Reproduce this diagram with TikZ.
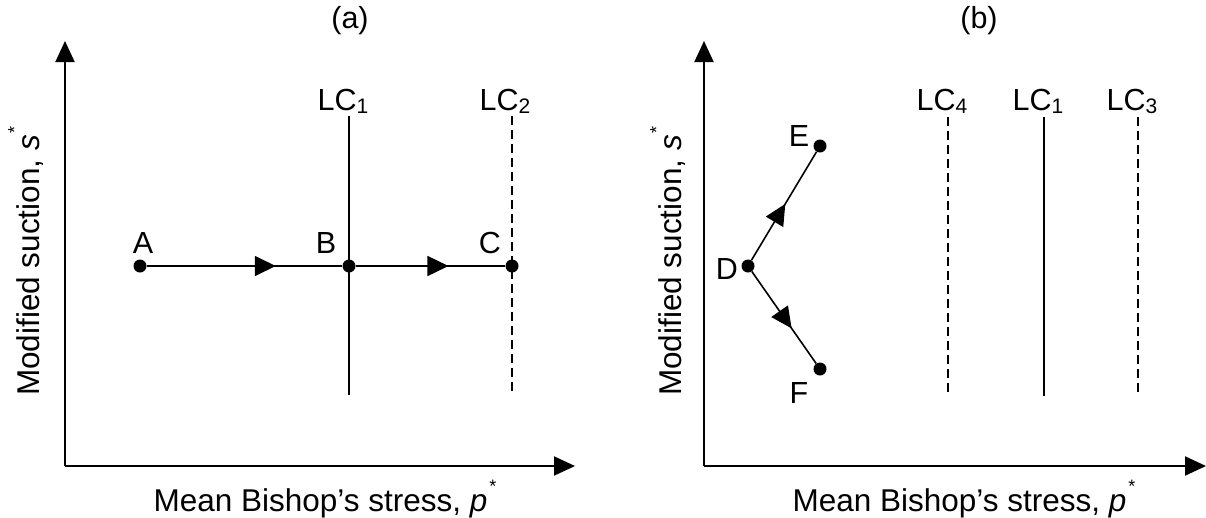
\documentclass[tikz,border=0pt]{standalone}
\usepackage{fontspec}
\setmainfont{Liberation Sans}
\usetikzlibrary{arrows.meta,decorations.markings}
\tikzset{
  axis/.style={line width=2pt,-{Triangle[length=21pt,width=19pt]}},
  path/.style={line width=1.6pt},
  lcsolid/.style={line width=1.6pt},
  lcdash/.style={line width=1.6pt,dash pattern=on 9pt off 5pt},
  dot/.style={circle,fill=black,inner sep=0pt,minimum size=13pt},
  lbl/.style={font=\fontsize{30.5}{35}\selectfont,inner sep=0pt},
  axlbl/.style={font=\fontsize{31.5}{36}\selectfont,inner sep=0pt},
  midarrow/.style={path,postaction={decorate},decoration={markings,mark=at position #1 with {\arrow{Triangle[length=21pt,width=20pt]}}}},
}
\newcommand{\lcsub}[1]{LC\raisebox{-0.1em}{\fontsize{21}{24}\selectfont #1}}
\newcommand{\starsup}{\hspace{2pt}\raisebox{0.6em}{\fontsize{18}{20}\selectfont *}}
\begin{document}
\begin{tikzpicture}[x=1pt,y=-1pt]
\useasboundingbox (0,0) rectangle (1206,517);
% ---------- panel (a)
\coordinate (Oa) at (65,466);
\coordinate (Ya) at (65,41);
\coordinate (Xa) at (575,466);
\draw[axis] (Oa) -- (Ya);
\draw[axis] (Oa) -- (Xa);
\node[lbl] (ta) at (350,21) {(a)};
\node[axlbl,rotate=90,anchor=center] (ylA) at (26,261) {Modified suction, \textit{s}\starsup};
\node[axlbl,anchor=base] (xlA) at (325,511) {Mean Bishop’s stress, \textit{p}\starsup};
% LC lines
\coordinate (L1t) at (349,116); \coordinate (L1b) at (349,395);
\coordinate (L2t) at (512,116); \coordinate (L2b) at (512,395);
\draw[lcsolid] (L1t) -- (L1b);
\draw[lcdash] (L2t) -- (L2b);
\node[lbl,anchor=base] (lc1a) at (343,110) {\lcsub{1}};
\node[lbl,anchor=base] (lc2a) at (505,110) {\lcsub{2}};
% points
\node[dot] (A) at (140,266) {};
\node[dot] (B) at (349,266) {};
\node[dot] (C) at (512,266) {};
\node[lbl,anchor=base] (lA) at (143,253) {A};
\node[lbl,anchor=base] (lB) at (326,253) {B};
\node[lbl,anchor=base] (lC) at (490,253) {C};
\draw[midarrow=0.66] (A) -- (B);
\draw[midarrow=0.62] (B) -- (C);
% ---------- panel (b)
\coordinate (Ob) at (704,466);
\coordinate (Yb) at (704,41);
\coordinate (Xb) at (1206,466);
\draw[axis] (Ob) -- (Yb);
\draw[axis] (Ob) -- (Xb);
\node[lbl] (tb) at (979,21) {(b)};
\node[axlbl,rotate=90,anchor=center] (ylB) at (668,261) {Modified suction, \textit{s}\starsup};
\node[axlbl,anchor=base] (xlB) at (964,511) {Mean Bishop’s stress, \textit{p}\starsup};
\coordinate (L4t) at (948,117); \coordinate (L4b) at (948,396);
\coordinate (L1bt) at (1044,117); \coordinate (L1bb) at (1044,396);
\coordinate (L3t) at (1138,117); \coordinate (L3b) at (1138,396);
\draw[lcdash] (L4t) -- (L4b);
\draw[lcsolid] (L1bt) -- (L1bb);
\draw[lcdash] (L3t) -- (L3b);
\node[lbl,anchor=base] (lc4b) at (942,110) {\lcsub{4}};
\node[lbl,anchor=base] (lc1b) at (1038,110) {\lcsub{1}};
\node[lbl,anchor=base] (lc3b) at (1132,110) {\lcsub{3}};
\node[dot] (D) at (748,266) {};
\node[dot] (E) at (820,146) {};
\node[dot] (F) at (820,369) {};
\node[lbl,anchor=base] (lD) at (727,279) {D};
\node[lbl,anchor=base] (lE) at (799,146) {E};
\node[lbl,anchor=base] (lF) at (799,403) {F};
\draw[midarrow=0.52] (D) -- (E);
\draw[midarrow=0.62] (D) -- (F);
\end{tikzpicture}
\end{document}
